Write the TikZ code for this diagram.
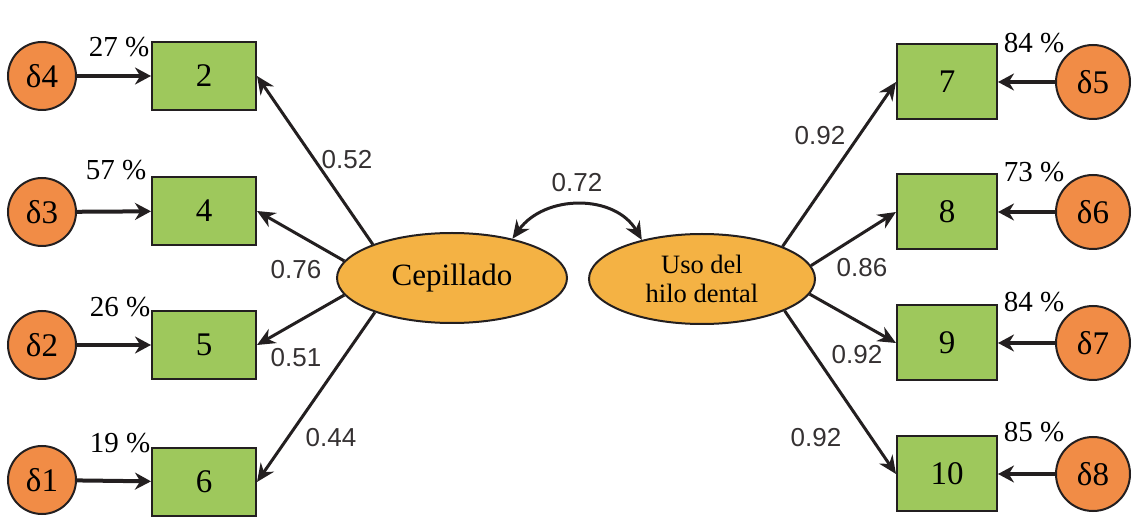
\documentclass[tikz,border=0pt]{standalone}
\usepackage{fontspec}
\setmainfont{Liberation Serif}
\newfontfamily\arialf{Liberation Sans}
\usetikzlibrary{arrows.meta,shapes.geometric}
\definecolor{dorange}{RGB}{241,140,70}
\definecolor{bgreen}{RGB}{158,200,92}
\definecolor{egold}{RGB}{244,178,68}
\definecolor{ink}{RGB}{35,31,32}
\tikzset{
  errc/.style={circle,draw=ink,line width=2pt,fill=dorange,inner sep=0pt,font=\fontsize{33}{33}\selectfont},
  obsbox/.style={rectangle,draw=ink,line width=2pt,fill=bgreen,inner sep=0pt,font=\fontsize{33}{33}\selectfont},
  latent/.style={ellipse,draw=ink,line width=2pt,fill=egold,inner sep=0pt,minimum width=230pt,minimum height=90pt},
  errarrow/.style={draw=ink,line width=4pt,-{Stealth[length=16pt,width=17pt]}},
  loadarrow/.style={draw=ink,line width=3pt,-{Stealth[length=18pt,width=16pt]}},
  pct/.style={font=\fontsize{29}{29}\selectfont,inner sep=0pt},
  coef/.style={font=\arialf\fontsize{26}{26}\selectfont,text=ink!92,inner sep=0pt},
}
\begin{document}
\begin{tikzpicture}[x=1pt,y=-1pt]
\useasboundingbox (0,0) rectangle (1136,526);
% latent variables
\node[latent,font=\fontsize{31}{31}\selectfont] (cep) at (452,278) {Cepillado};
\node[latent,minimum width=226pt,align=center,font=\fontsize{26.5}{29}\selectfont] (uso) at (702,279) {Uso del\\hilo dental};
% left boxes
\node[obsbox,minimum width=104pt,minimum height=68pt] (b2) at (204,76) {2};
\node[obsbox,minimum width=104pt,minimum height=68pt] (b4) at (204,211) {4};
\node[obsbox,minimum width=104pt,minimum height=68pt] (b5) at (204,345) {5};
\node[obsbox,minimum width=104pt,minimum height=68pt] (b6) at (204,482) {6};
% right boxes
\node[obsbox,minimum width=100pt,minimum height=75pt] (b7) at (947,82) {7};
\node[obsbox,minimum width=100pt,minimum height=75pt] (b8) at (947,212) {8};
\node[obsbox,minimum width=100pt,minimum height=75pt] (b9) at (947,343) {9};
\node[obsbox,minimum width=100pt,minimum height=75pt] (b10) at (947,474) {10};
% left error circles
\node[errc,minimum size=68pt] (d4) at (42,76) {δ4};
\node[errc,minimum size=68pt] (d3) at (42,212) {δ3};
\node[errc,minimum size=68pt] (d2) at (42,345) {δ2};
\node[errc,minimum size=68pt] (d1) at (42,480) {δ1};
% right error circles
\node[errc,minimum size=74pt] (d5) at (1093,82) {δ5};
\node[errc,minimum size=74pt] (d6) at (1093,212) {δ6};
\node[errc,minimum size=74pt] (d7) at (1093,343) {δ7};
\node[errc,minimum size=74pt] (d8) at (1093,474) {δ8};
% error arrows
\draw[errarrow] (d4) -- (b2);
\draw[errarrow] (d3) -- (b4);
\draw[errarrow] (d2) -- (b5);
\draw[errarrow] (d1) -- (b6);
\draw[errarrow] (d5) -- (b7);
\draw[errarrow] (d6) -- (b8);
\draw[errarrow] (d7) -- (b9);
\draw[errarrow] (d8) -- (b10);
% loadings
\draw[loadarrow] (cep.157) -- (b2.east);
\draw[loadarrow] (cep.171) -- (b4.east);
\draw[loadarrow] (cep.189) -- (b5.east);
\draw[loadarrow] (cep.204) -- (b6.east);
\draw[loadarrow] (uso.22) -- (b7.west);
\draw[loadarrow] (uso.7) -- (b8.west);
\draw[loadarrow] (uso.-8) -- (b9.west);
\draw[loadarrow] (uso.-21) -- (b10.west);
% covariance
\draw[draw=ink,line width=3pt,{Stealth[length=18pt,width=16pt]}-{Stealth[length=18pt,width=16pt]}]
  (cep.33) .. controls (545,194) and (615,194) .. (uso.147);
% percentages
\node[pct] (p4) at (119,47) {27 \%};
\node[pct] (p3) at (116,170) {57 \%};
\node[pct] (p2) at (120,307) {26 \%};
\node[pct] (p1) at (120,443) {19 \%};
\node[pct] (p5) at (1034,43) {84 \%};
\node[pct] (p6) at (1034,172) {73 \%};
\node[pct] (p7) at (1034,302) {84 \%};
\node[pct] (p8) at (1034,432) {85 \%};
% coefficients
\node[coef] (c52) at (347,160) {0.52};
\node[coef] (c76) at (296,270) {0.76};
\node[coef] (c51) at (296,358) {0.51};
\node[coef] (c44) at (331,438) {0.44};
\node[coef] (c72) at (577,183) {0.72};
\node[coef] (c92a) at (820,136) {0.92};
\node[coef] (c86) at (862,268) {0.86};
\node[coef] (c92b) at (857,355) {0.92};
\node[coef] (c92c) at (816,438) {0.92};
\end{tikzpicture}
\end{document}
